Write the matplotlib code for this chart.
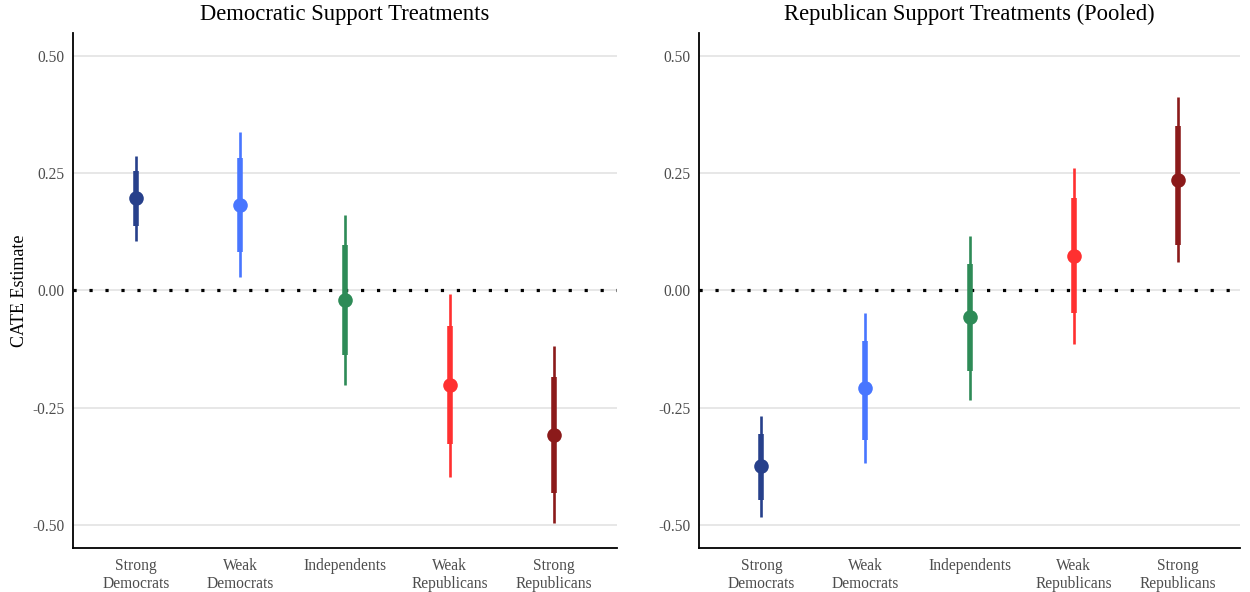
import matplotlib
matplotlib.use("Agg")
import matplotlib.pyplot as plt

plt.rcParams['font.family'] = ['Liberation Serif', 'DejaVu Serif']

categories = ["Strong\nDemocrats", "Weak\nDemocrats", "Independents", "Weak\nRepublicans", "Strong\nRepublicans"]
colors = ["#27408B", "#4876FF", "#2E8B57", "#FF3030", "#8B1A1A"]

titles = ["Democratic Support Treatments", "Republican Support Treatments (Pooled)"]

# Democratic support treatments
dem_est = [0.198, 0.183, -0.020, -0.202, -0.309]
dem_lo80 = [0.138, 0.082, -0.138, -0.328, -0.433]
dem_hi80 = [0.256, 0.283, 0.097, -0.076, -0.185]
dem_lo95 = [0.106, 0.029, -0.202, -0.399, -0.497]
dem_hi95 = [0.287, 0.339, 0.161, -0.007, -0.119]

# Republican support treatments (pooled)
rep_est = [-0.375, -0.208, -0.057, 0.074, 0.236]
rep_lo80 = [-0.448, -0.319, -0.172, -0.048, 0.097]
rep_hi80 = [-0.307, -0.108, 0.057, 0.198, 0.352]
rep_lo95 = [-0.484, -0.368, -0.234, -0.114, 0.061]
rep_hi95 = [-0.268, -0.048, 0.116, 0.262, 0.413]

yticks = [-0.50, -0.25, 0.00, 0.25, 0.50]
ytick_labels = ["-0.50", "-0.25", "0.00", "0.25", "0.50"]

panels = [
    (dem_est, dem_lo80, dem_hi80, dem_lo95, dem_hi95),
    (rep_est, rep_lo80, rep_hi80, rep_lo95, rep_hi95),
]

fig = plt.figure(figsize=(12.5, 5.92), dpi=100)
rects = [[0.0584, 0.0743, 0.4352, 0.8700], [0.5592, 0.0743, 0.4328, 0.8700]]

for i, (rect, data) in enumerate(zip(rects, panels)):
    ax = fig.add_axes(rect)
    est, lo80, hi80, lo95, hi95 = data
    xs = list(range(1, len(categories) + 1))
    for ytk in yticks:
        ax.axhline(ytk, color="#E5E5E5", lw=1.3, zorder=0)
    ax.axhline(0, color="black", lw=2.3, linestyle=(0, (1, 4)), dash_capstyle="butt", zorder=1)
    for x, e, l8, h8, l9, h9, c in zip(xs, est, lo80, hi80, lo95, hi95, colors):
        ax.plot([x, x], [l9, h9], color=c, lw=1.9, solid_capstyle="butt", zorder=2)
        ax.plot([x, x], [l8, h8], color=c, lw=4.0, solid_capstyle="butt", zorder=3)
        ax.plot([x], [e], marker="o", markersize=10.5, color=c, markeredgewidth=0, zorder=4)
    ax.set_xlim(0.4, 5.6)
    ax.set_ylim(-0.55, 0.55)
    ax.set_xticks(xs)
    ax.set_xticklabels(categories, fontsize=11.2, color="#4D4D4D", linespacing=1.15)
    ax.set_yticks(yticks)
    ax.set_yticklabels(ytick_labels, fontsize=11.2, color="#4D4D4D")
    ax.tick_params(axis="both", length=0, pad=6)
    ax.tick_params(axis="x", pad=7)
    for s in ["top", "right"]:
        ax.spines[s].set_visible(False)
    for s in ["left", "bottom"]:
        ax.spines[s].set_color("black")
        ax.spines[s].set_linewidth(1.3)
    ax.set_title(titles[i], fontsize=16.3, color="black", pad=9)
    if i == 0:
        ax.set_ylabel("CATE Estimate", fontsize=13, color="black", labelpad=3)

fig.savefig("out.png", dpi=100)
